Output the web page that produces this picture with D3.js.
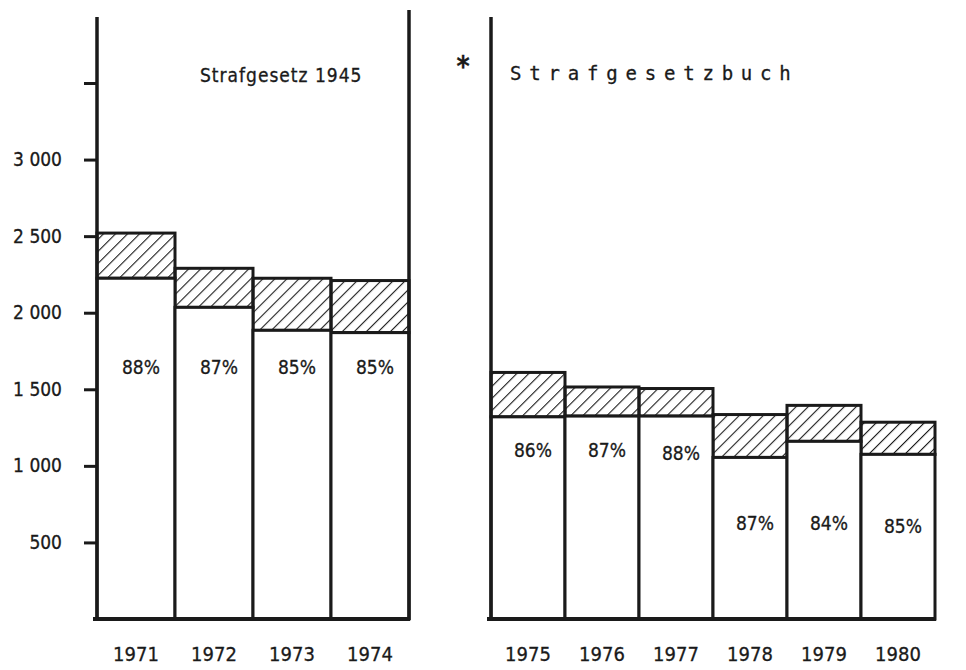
<!DOCTYPE html>
<html>
<head>
<meta charset="utf-8">
<script src="https://cdn.jsdelivr.net/npm/d3@7"></script>
<style>
  body { margin: 0; background: #fff; }
  svg text { font-family: "DejaVu Sans Condensed", "Liberation Sans Narrow", sans-serif; fill: #1a1a1a; stroke: #1a1a1a; stroke-width: 0.3px; }
</style>
</head>
<body>
<script>
// values (number of cases, total and lower part)
var years1 = ["1971", "1972", "1973", "1974"];
var total1 = [2520, 2290, 2225, 2210];
var lower1 = [2225, 2035, 1885, 1870];
var pct1 = ["88%", "87%", "85%", "85%"];

var years2 = ["1975", "1976", "1977", "1978", "1979", "1980"];
var total2 = [1610, 1515, 1505, 1335, 1395, 1285];
var lower2 = [1320, 1325, 1325, 1055, 1160, 1075];
var pct2 = ["86%", "87%", "88%", "87%", "84%", "85%"];

var tickVals = [500, 1000, 1500, 2000, 2500, 3000, 3500];

var svg = d3.select("body").append("svg")
    .attr("width", 966)
    .attr("height", 670);

var ink = "#1a1a1a";

// hatching
svg.append("defs").append("pattern")
    .attr("id", "hatch")
    .attr("patternUnits", "userSpaceOnUse")
    .attr("width", 8.5)
    .attr("height", 8.5)
    .attr("patternTransform", "rotate(45)")
    .append("line")
    .attr("x1", 0).attr("y1", 0)
    .attr("x2", 0).attr("y2", 8.5)
    .attr("stroke", ink)
    .attr("stroke-width", 2.2);

var y = d3.scaleLinear().domain([0, 3500]).range([619, 83]);

// y axis
var yAxis = d3.axisLeft(y)
    .tickValues(tickVals)
    .tickSize(13)
    .tickPadding(22)
    .tickFormat(function(d) {
        if (d == 3500) return "";
        return d3.format(",")(d).replace(",", " ");
    });

var ax = svg.append("g")
    .attr("transform", "translate(97,0)")
    .call(yAxis);
ax.select(".domain").remove();
ax.selectAll(".tick line").attr("stroke", ink).attr("stroke-width", 3);
ax.selectAll(".tick text").style("font-size", "19px").attr("fill", ink);

function panel(years, total, lower, pct, x0, x1, labelRows) {
    var x = d3.scaleBand().domain(years).range([x0, x1]).padding(0);
    var g = svg.append("g");

    // hatched part (upper)
    g.selectAll(".up")
        .data(years)
        .enter()
        .append("rect")
        .attr("x", function(d) { return x(d); })
        .attr("width", x.bandwidth())
        .attr("y", function(d, i) { return y(total[i]); })
        .attr("height", function(d, i) { return y(lower[i]) - y(total[i]); })
        .attr("fill", "url(#hatch)")
        .attr("stroke", ink)
        .attr("stroke-width", 3);

    // lower part
    g.selectAll(".low")
        .data(years)
        .enter()
        .append("rect")
        .attr("x", function(d) { return x(d); })
        .attr("width", x.bandwidth())
        .attr("y", function(d, i) { return y(lower[i]); })
        .attr("height", function(d, i) { return y(0) - y(lower[i]); })
        .attr("fill", "#fff")
        .attr("stroke", ink)
        .attr("stroke-width", 3);

    g.selectAll(".pct")
        .data(pct)
        .enter()
        .append("text")
        .attr("x", function(d, i) { return x(years[i]) + x.bandwidth() / 2 + 5; })
        .attr("y", function(d, i) { return labelRows[i]; })
        .attr("text-anchor", "middle")
        .style("font-size", "19px")
        .text(function(d) { return d; });

    g.selectAll(".yr")
        .data(years)
        .enter()
        .append("text")
        .attr("x", function(d) { return x(d) + x.bandwidth() / 2; })
        .attr("y", 661)
        .attr("text-anchor", "middle")
        .style("font-size", "20px")
        .text(function(d) { return d; });

    // baseline
    g.append("line")
        .attr("x1", x0 - 4).attr("x2", x1 + 1)
        .attr("y1", y(0)).attr("y2", y(0))
        .attr("stroke", ink).attr("stroke-width", 4);
    return x;
}

panel(years1, total1, lower1, pct1, 97, 409, [374, 374, 374, 374]);
panel(years2, total2, lower2, pct2, 491, 935, [457, 457, 460, 530, 530, 533]);

// vertical frame lines
svg.append("line").attr("x1", 97).attr("x2", 97).attr("y1", 17).attr("y2", 620)
    .attr("stroke", ink).attr("stroke-width", 3.5);
svg.append("line").attr("x1", 409).attr("x2", 409).attr("y1", 10).attr("y2", 620)
    .attr("stroke", ink).attr("stroke-width", 3.5);
svg.append("line").attr("x1", 491).attr("x2", 491).attr("y1", 17).attr("y2", 621)
    .attr("stroke", ink).attr("stroke-width", 3.5);

// titles
svg.append("text")
    .attr("x", 200).attr("y", 82)
    .style("font-size", "19px")
    .style("letter-spacing", "1px")
    .text("Strafgesetz 1945");

svg.append("text")
    .attr("x", 510).attr("y", 80)
    .style("font-family", "'DejaVu Sans Mono', monospace")
    .style("font-size", "19px")
    .style("letter-spacing", "7.8px")
    .text("Strafgesetzbuch");

svg.append("text")
    .attr("x", 463).attr("y", 76)
    .attr("text-anchor", "middle")
    .style("font-size", "28px")
    .style("font-weight", "bold")
    .text("*");
</script>
</body>
</html>
